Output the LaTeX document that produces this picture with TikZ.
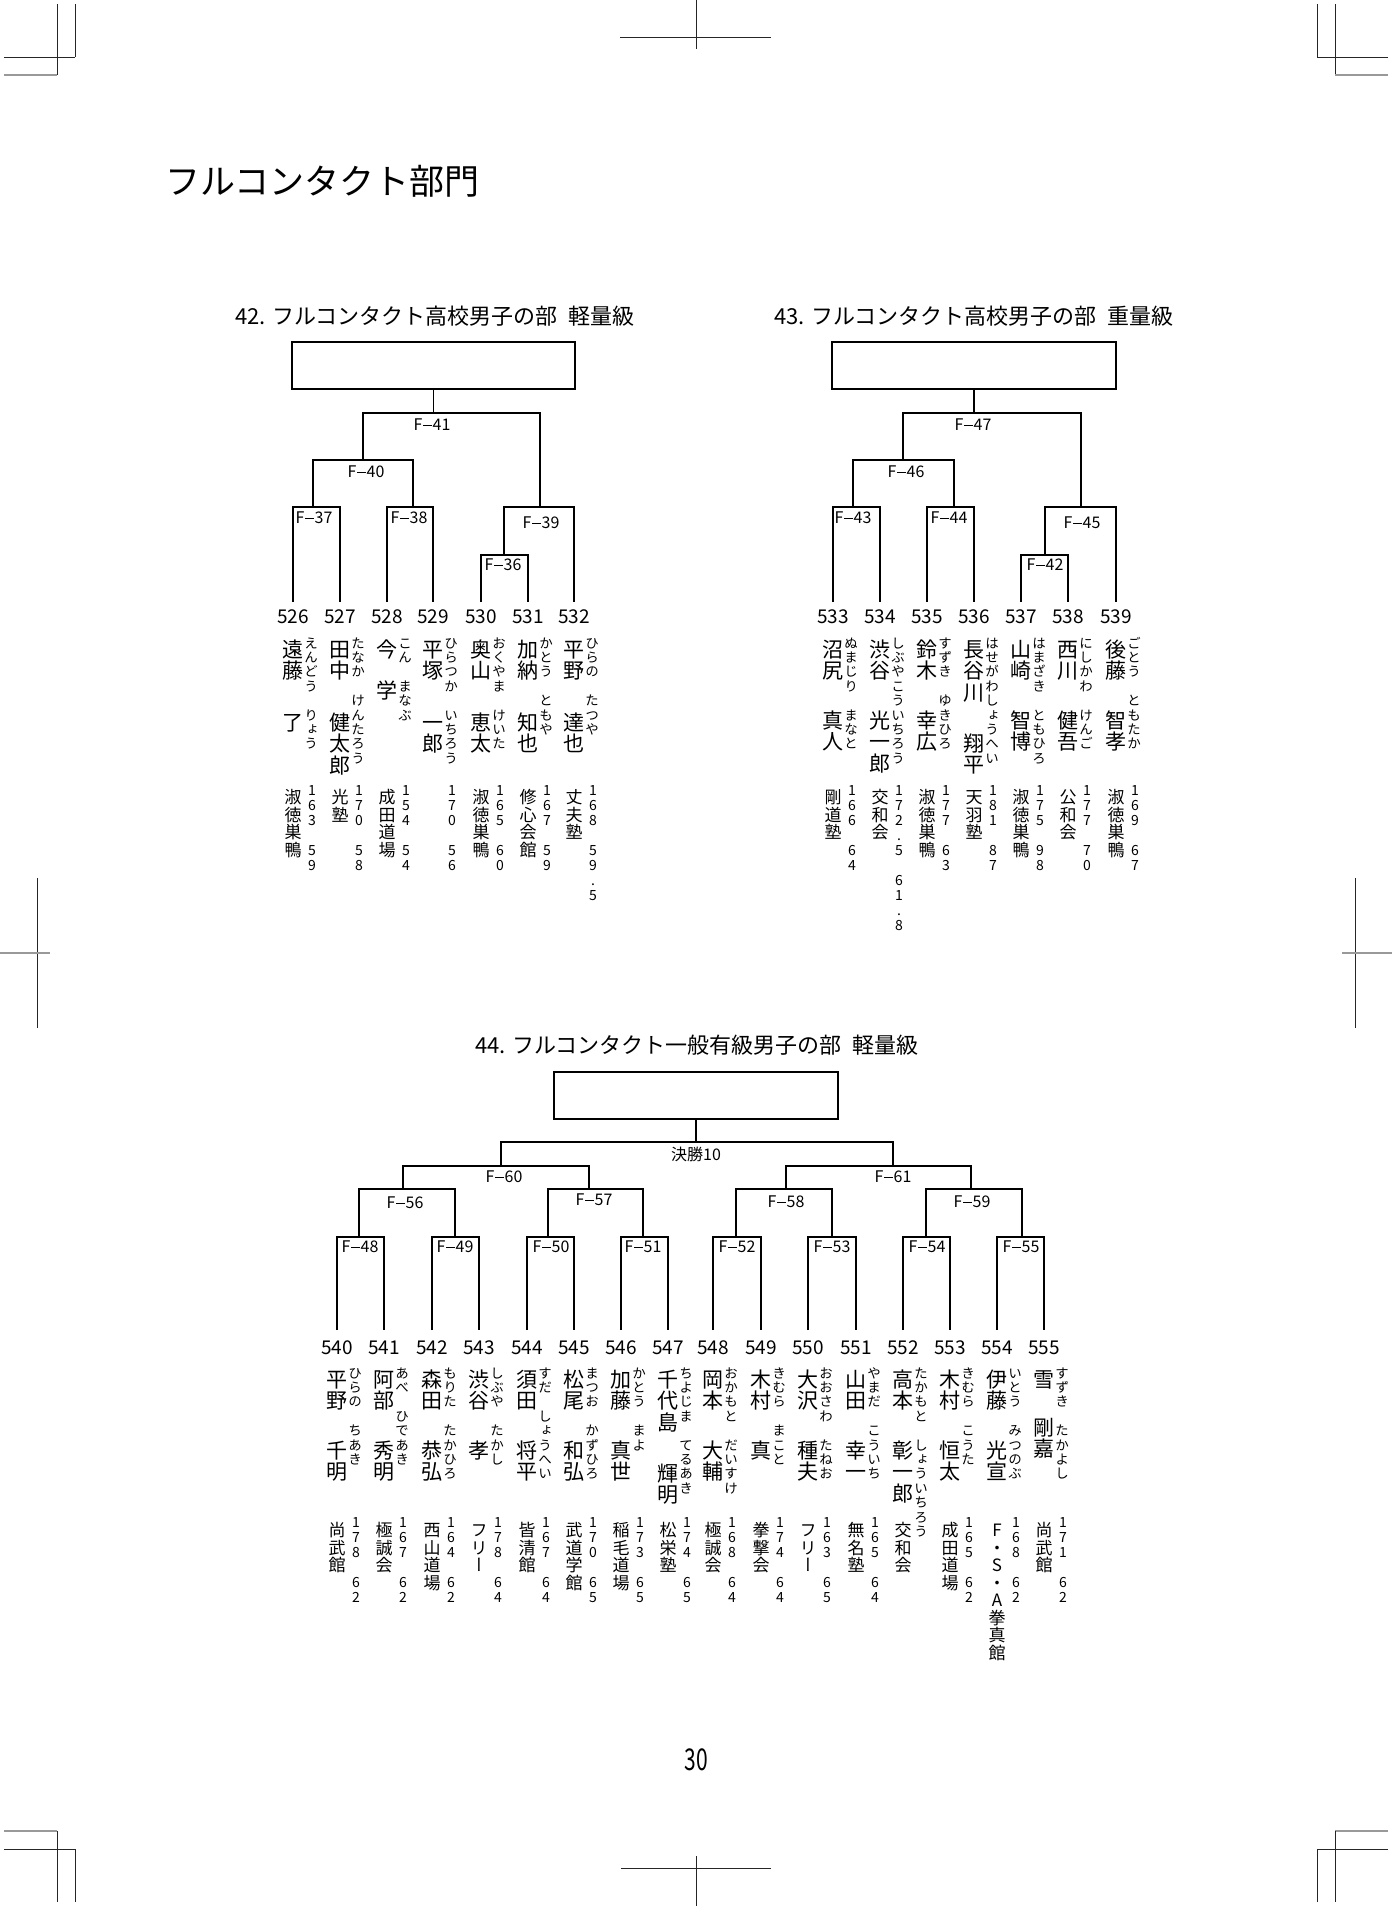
\documentclass[tikz,border=0pt]{standalone}
\usepackage{fontspec}
\setmainfont{Noto Sans CJK JP}
\newfontfamily\vjp[RawFeature=+vert]{Noto Sans CJK JP}
\newcommand\vstrut{\vrule width0pt height0.88em depth0.12em}
\def\vstep#1{\ifx\relax#1\else
  \hbox to 1em{\hss\vstrut#1\hss}%
  \expandafter\vstep\fi}
\newcommand\vcol[2][21.5pt]{\vbox{\baselineskip=#1\relax\lineskiplimit=-\maxdimen\expandafter\vstep#2\relax}}
\newcommand\fdash{\kern0.06em\rule[0.3em]{0.52em}{0.07em}\kern0.06em}
\newcommand\labfont{\fontsize{16}{16}\selectfont}
\newcommand\ttlfont{\fontsize{22}{22}\selectfont}
\newcommand\numfont{\fontsize{19}{19}\selectfont}
\newcommand\namefont{\vjp\fontsize{21}{21}\selectfont}
\newcommand\furifont{\vjp\fontsize{13.5}{13.5}\selectfont}
\newcommand\clubfont{\vjp\fontsize{17}{17}\selectfont}
\newcommand\hwfont{\vjp\fontsize{14}{14}\selectfont}
\begin{document}
\begin{tikzpicture}[x=1pt,y=-1pt,line join=miter,
  bline/.style={line width=1.8pt},
  wbox/.style={draw,line width=1.8pt,minimum width=284pt,minimum height=47pt,inner sep=0pt},
  mlab/.style={font=\labfont,inner sep=0pt},
  ttl/.style={font=\ttlfont,inner sep=0pt},
  pnum/.style={font=\numfont,inner sep=0pt},
  pcol/.style={anchor=north,inner sep=0pt},
  crop/.style={line width=0.8pt,black!85},
  cropg/.style={line width=1.4pt,black!40}]
\useasboundingbox (0,0) rectangle (1392,1906);
% crop marks
\draw[crop] (57,4) -- (57,75);
\draw[crop] (75,4) -- (75,57);
\draw[crop] (4,57) -- (75,57);
\draw[cropg] (4,75) -- (57,75);
\draw[crop] (1335,4) -- (1335,75);
\draw[crop] (1317,4) -- (1317,57);
\draw[crop] (1317,57) -- (1388,57);
\draw[cropg] (1335,75) -- (1388,75);
\draw[cropg] (4,1831) -- (57,1831);
\draw[crop] (4,1849) -- (75,1849);
\draw[crop] (57,1831) -- (57,1902);
\draw[crop] (75,1849) -- (75,1902);
\draw[cropg] (1335,1831) -- (1388,1831);
\draw[crop] (1317,1849) -- (1388,1849);
\draw[crop] (1335,1831) -- (1335,1902);
\draw[crop] (1317,1849) -- (1317,1902);
\draw[crop] (620,37) -- (771,37);
\draw[crop] (696,0) -- (696,49);
\draw[crop] (621,1868) -- (771,1868);
\draw[crop] (696,1856) -- (696,1906);
\draw[crop] (37,878) -- (37,1028);
\draw[cropg] (0,953) -- (50,953);
\draw[crop] (1355,878) -- (1355,1028);
\draw[cropg] (1342,953) -- (1392,953);

\node[anchor=west,inner sep=0pt,font=\fontsize{35}{35}\selectfont] (head) at (165,181) {フルコンタクト部門};
\node[inner sep=0pt] (page) at (696,1760) {\scalebox{0.7}[1]{\fontsize{30}{30}\selectfont 30}};

% 42
\node[ttl] (t42) at (435,316) {42. フルコンタクト高校男子の部\hspace{0.5em}軽量級};
\node[wbox,minimum width=283pt] (w42) at (433.5,365.5) {};
\foreach \px/\pn/\psur/\pgiv/\poff/\pfur/\pclub/\phw in {
  293/526/遠藤/了/73/えんどう　りょう/淑徳巣鴨/163　59,
  340/527/田中/健太郎/73/たなか　けんたろう/光塾/170　58,
  387/528/今/学/41/こん　まなぶ/成田道場/154　54,
  433/529/平塚/一郎/73/ひらつか　いちろう/　/170　56,
  481/530/奥山/恵太/73/おくやま　けいた/淑徳巣鴨/165　60,
  528/531/加納/知也/73/かとう　ともや/修心会館/167　59,
  574/532/平野/達也/73/ひらの　たつや/丈夫塾/168　59.5}{
  \coordinate (p\pn) at (\px,602);
  \node[pnum] (num\pn) at (\px,617) {\pn};
  \node[pcol,font=\namefont] (sur\pn) at (\px,638.5) {\vcol{\psur}};
  \node[pcol,font=\namefont] (giv\pn) at (\px,638.5+\poff) {\vcol{\pgiv}};
  \node[pcol,font=\furifont] (fur\pn) at (\px+18,636) {\vcol[14.4pt]{\pfur}};
  \node[pcol,font=\clubfont] (club\pn) at (\px,788.5) {\vcol[17.5pt]{\pclub}};
  \node[pcol,font=\hwfont] (hw\pn) at (\px+19,783) {\vcol[15pt]{\phw}};
}
\coordinate (f36) at (504,555);
\coordinate (f37) at (313,507);
\coordinate (f38) at (413,507);
\coordinate (f39) at (540,507);
\coordinate (f40) at (363,460);
\coordinate (f41) at (433.5,413);
\draw[bline] (p526) |- (f37) -| (p527);
\draw[bline] (p528) |- (f38) -| (p529);
\draw[bline] (p530) |- (f36) -| (p531);
\draw[bline] (f36) |- (f39) -| (p532);
\draw[bline] (f37) |- (f40) -| (f38);
\draw[bline] (f40) |- (f41) -| (f39);
\draw[bline] (w42) -- (f41);
\node[mlab] (l41) at (432,425) {F\fdash41};
\node[mlab] (l40) at (366,472) {F\fdash40};
\node[mlab] (l37) at (314,518) {F\fdash37};
\node[mlab] (l38) at (409,518) {F\fdash38};
\node[mlab] (l39) at (541,523) {F\fdash39};
\node[mlab] (l36) at (503,565) {F\fdash36};

% 43
\node[ttl] (t43) at (974,316) {43. フルコンタクト高校男子の部\hspace{0.5em}重量級};
\node[wbox] (w43) at (974,365.5) {};
\foreach \px/\pn/\psur/\pgiv/\poff/\pfur/\pclub/\phw in {
  833/533/沼尻/真人/71/ぬまじり　まなと/剛道塾/166　64,
  880/534/渋谷/光一郎/71/しぶやこういちろう/交和会/172.5　61.8,
  927/535/鈴木/幸広/71/すずき　ゆきひろ/淑徳巣鴨/177　63,
  974/536/長谷川/翔平/94/はせがわしょうへい/天羽塾/181　87,
  1021/537/山崎/智博/71/はまざき　ともひろ/淑徳巣鴨/175　98,
  1068/538/西川/健吾/71/にしかわ　けんご/公和会/177　70,
  1116/539/後藤/智孝/71/ごとう　ともたか/淑徳巣鴨/169　67}{
  \coordinate (p\pn) at (\px,602);
  \node[pnum] (num\pn) at (\px,617) {\pn};
  \node[pcol,font=\namefont] (sur\pn) at (\px,638.5) {\vcol{\psur}};
  \node[pcol,font=\namefont] (giv\pn) at (\px,638.5+\poff) {\vcol{\pgiv}};
  \node[pcol,font=\furifont] (fur\pn) at (\px+18,636) {\vcol[14.4pt]{\pfur}};
  \node[pcol,font=\clubfont] (club\pn) at (\px,788.5) {\vcol[17.5pt]{\pclub}};
  \node[pcol,font=\hwfont] (hw\pn) at (\px+19,783) {\vcol[15pt]{\phw}};
}
\coordinate (f42) at (1045,555);
\coordinate (f43) at (853,507);
\coordinate (f44) at (954,507);
\coordinate (f45) at (1081,507);
\coordinate (f46) at (903,460);
\coordinate (f47) at (974,413);
\draw[bline] (p533) |- (f43) -| (p534);
\draw[bline] (p535) |- (f44) -| (p536);
\draw[bline] (p537) |- (f42) -| (p538);
\draw[bline] (f42) |- (f45) -| (p539);
\draw[bline] (f43) |- (f46) -| (f44);
\draw[bline] (f46) |- (f47) -| (f45);
\draw[bline] (w43) -- (f47);
\node[mlab] (l47) at (973,425) {F\fdash47};
\node[mlab] (l46) at (906,472) {F\fdash46};
\node[mlab] (l43) at (853,518) {F\fdash43};
\node[mlab] (l44) at (949,518) {F\fdash44};
\node[mlab] (l45) at (1082,523) {F\fdash45};
\node[mlab] (l42) at (1045,565) {F\fdash42};

% 44
\node[ttl] (t44) at (697,1045) {44. フルコンタクト一般有級男子の部\hspace{0.5em}軽量級};
\node[wbox] (w44) at (696,1095.5) {};
\foreach \px/\pn/\psur/\pgiv/\poff/\pfur/\pclub/\phw in {
  337/540/平野/千明/71/ひらの　ちあき/尚武館/178　62,
  384/541/阿部/秀明/71/あべ　ひであき/極誠会/167　62,
  432/542/森田/恭弘/71/もりた　たかひろ/西山道場/164　62,
  479/543/渋谷/孝/71/しぶや　たかし/フリー/178　64,
  527/544/須田/将平/71/すだ　しょうへい/皆清館/167　64,
  574/545/松尾/和弘/71/まつお　かずひろ/武道学館/170　65,
  621/546/加藤/真世/71/かとう　まよ/稲毛道場/173　65,
  668/547/千代島/輝明/94/ちよじま　てるあき/松栄塾/174　65,
  713/548/岡本/大輔/71/おかもと　だいすけ/極誠会/168　64,
  761/549/木村/真/71/きむら　まこと/拳撃会/174　64,
  808/550/大沢/種夫/71/おおさわ　たねお/フリー/163　65,
  856/551/山田/幸一/71/やまだ　こういち/無名塾/165　64,
  903/552/高本/彰一郎/71/たかもと　しょういちろう/交和会/　,
  950/553/木村/恒太/71/きむら　こうた/成田道場/165　62,
  997/554/伊藤/光宣/71/いとう　みつのぶ/F・S・A拳真館/168　62,
  1044/555/雪/剛嘉/48/すずき　たかよし/尚武館/171　62}{
  \coordinate (p\pn) at (\px,1330);
  \node[pnum] (num\pn) at (\px,1348) {\pn};
  \node[pcol,font=\namefont] (sur\pn) at (\px,1368.5) {\vcol{\psur}};
  \node[pcol,font=\namefont] (giv\pn) at (\px,1368.5+\poff) {\vcol{\pgiv}};
  \node[pcol,font=\furifont] (fur\pn) at (\px+18,1366) {\vcol[14.4pt]{\pfur}};
  \node[pcol,font=\clubfont] (club\pn) at (\px,1521.5) {\vcol[17.5pt]{\pclub}};
  \node[pcol,font=\hwfont] (hw\pn) at (\px+19,1515) {\vcol[15pt]{\phw}};
}
\coordinate (f48) at (359,1237);
\coordinate (f49) at (455,1237);
\coordinate (f50) at (548,1237);
\coordinate (f51) at (643,1237);
\coordinate (f52) at (736,1237);
\coordinate (f53) at (832,1237);
\coordinate (f54) at (926,1237);
\coordinate (f55) at (1022,1237);
\coordinate (f56) at (403,1189);
\coordinate (f57) at (589,1189);
\coordinate (f58) at (786,1189);
\coordinate (f59) at (971,1189);
\coordinate (f60) at (501,1166);
\coordinate (f61) at (893,1166);
\coordinate (k10) at (696,1142);
\draw[bline] (p540) |- (f48) -| (p541);
\draw[bline] (p542) |- (f49) -| (p543);
\draw[bline] (p544) |- (f50) -| (p545);
\draw[bline] (p546) |- (f51) -| (p547);
\draw[bline] (p548) |- (f52) -| (p549);
\draw[bline] (p550) |- (f53) -| (p551);
\draw[bline] (p552) |- (f54) -| (p553);
\draw[bline] (p554) |- (f55) -| (p555);
\draw[bline] (f48) |- (f56) -| (f49);
\draw[bline] (f50) |- (f57) -| (f51);
\draw[bline] (f52) |- (f58) -| (f53);
\draw[bline] (f54) |- (f59) -| (f55);
\draw[bline] (f56) |- (f60) -| (f57);
\draw[bline] (f58) |- (f61) -| (f59);
\draw[bline] (f60) |- (k10) -| (f61);
\draw[bline] (w44) -- (k10);
\node[mlab] (lk10) at (696,1154) {決勝10};
\node[mlab] (l60) at (504,1177) {F\fdash60};
\node[mlab] (l61) at (893,1177) {F\fdash61};
\node[mlab] (l56) at (405,1203) {F\fdash56};
\node[mlab] (l57) at (594,1200) {F\fdash57};
\node[mlab] (l58) at (786,1202) {F\fdash58};
\node[mlab] (l59) at (972,1202) {F\fdash59};
\foreach \lx/\ln in {360/48,455/49,551/50,643/51,737/52,832/53,927/54,1021/55}
  \node[mlab] (l\ln) at (\lx,1247) {F\fdash\ln};
\end{tikzpicture}
\end{document}
